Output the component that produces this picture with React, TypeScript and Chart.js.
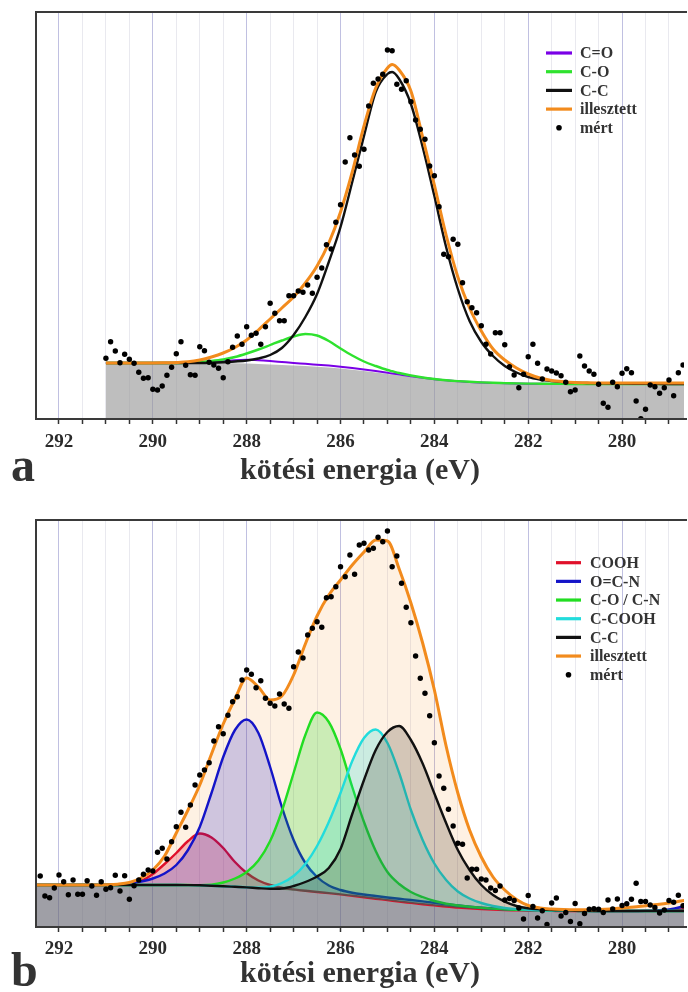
import React, { useEffect, useRef } from 'react';
import { Chart, registerables } from 'chart.js';

Chart.register(...registerables);

// ---------------- Panel a: fitted components (energy grid, eV) ----------------
const A_CURVE_E = [
  291.0, 290.75, 290.5, 290.25, 290.0, 289.75, 289.5, 289.25, 289.0, 288.75,
  288.5, 288.25, 288.0, 287.75, 287.5, 287.25, 287.0, 286.75, 286.5, 286.25,
  286.0, 285.75, 285.5, 285.25, 285.0, 284.9, 284.75, 284.5, 284.25, 284.0,
  283.75, 283.5, 283.25, 283.0, 282.75, 282.5, 282.25, 282.0, 281.75, 281.5,
  281.25, 281.0, 280.75, 280.5, 280.25, 280.0, 279.75, 279.5, 279.25, 279.0,
  278.75, 278.5,
];
const A_BACKGROUND = [
  56, 56, 56, 56, 56, 56, 56, 56, 56, 56,
  56, 55.8, 55.5, 55, 54.5, 54, 53.5, 53, 52.3, 51.5,
  50.5, 49.3, 48, 46.5, 45, 44.4, 43.5, 42, 40.5, 39.3,
  38.3, 37.5, 36.8, 36.3, 36, 35.7, 35.5, 35.3, 35.2, 35.1,
  35, 35, 35, 35, 35, 35, 35, 35, 35, 35,
  35, 35,
];
const A_C_DOUBLE_O = [
  56, 56, 56, 56, 56, 56, 56, 56, 56.2, 56.8,
  57.8, 58.8, 59.2, 58.8, 58, 57, 56, 55.2, 54.3, 53.4,
  52.3, 51, 49.5, 47.9, 46.2, 45.5, 44.5, 42.8, 41.2, 39.8,
  38.7, 37.8, 37, 36.5, 36.1, 35.8, 35.5, 35.3, 35.2, 35.1,
  35, 35, 35, 35, 35, 35, 35, 35, 35, 35,
  35, 35,
];
const A_C_O = [
  56, 56, 56, 56, 56, 56, 56, 56.3, 57, 58,
  59.5, 62, 65.5, 69.5, 74, 78.5, 82.5, 85, 83.5, 78,
  70.5, 63.5, 57.5, 53, 49, 47.8, 46, 43.5, 41.5, 40,
  38.8, 37.9, 37.2, 36.6, 36.2, 35.9, 35.6, 35.4, 35.3, 35.2,
  35.1, 35, 35, 35, 35, 35, 35, 35, 35, 35,
  35, 35,
];
const A_C_C = [
  56, 56, 56, 56, 56, 56, 56, 56, 56, 56.2,
  56.7, 57.5, 58.5, 60.5, 64, 71, 84, 102, 125, 157,
  192, 237, 283, 327, 345, 347, 340, 315, 272, 223,
  172, 130, 98, 77, 63, 53, 46.5, 42, 39.5, 38,
  37, 36.3, 36, 35.7, 35.5, 35.4, 35.3, 35.2, 35.1, 35,
  35, 35,
];
const A_FIT = [
  56, 56, 56, 56, 56, 56.2, 56.5, 57.2, 59, 62,
  66, 71.5, 79, 89, 100, 111, 122, 136, 153, 176,
  207, 247, 293, 331, 351, 354.5, 349, 328, 282, 234,
  184, 142, 111, 88, 70, 59, 51, 45, 41, 38.5,
  37.3, 36.6, 36.3, 36.1, 36, 36, 36, 36, 36, 36,
  36, 36,
];
// ---------------- Panel a: measured points ----------------
const A_MEAS_E = [
  291.0, 290.9, 290.8, 290.7, 290.6, 290.5, 290.4, 290.3, 290.2, 290.1,
  290.0, 289.9, 289.8, 289.7, 289.6, 289.5, 289.4, 289.3, 289.2, 289.1,
  289.0, 288.9, 288.8, 288.7, 288.6, 288.5, 288.4, 288.3, 288.2, 288.1,
  288.0, 287.9, 287.8, 287.7, 287.6, 287.5, 287.4, 287.3, 287.2, 287.1,
  287.0, 286.9, 286.8, 286.7, 286.6, 286.5, 286.4, 286.3, 286.2, 286.1,
  286.0, 285.9, 285.8, 285.7, 285.6, 285.5, 285.4, 285.3, 285.2, 285.1,
  285.0, 284.9, 284.8, 284.7, 284.6, 284.5, 284.4, 284.3, 284.2, 284.1,
  284.0, 283.9, 283.8, 283.7, 283.6, 283.5, 283.4, 283.3, 283.2, 283.1,
  283.0, 282.9, 282.8, 282.7, 282.6, 282.5, 282.4, 282.3, 282.2, 282.1,
  282.0, 281.9, 281.8, 281.7, 281.6, 281.5, 281.4, 281.3, 281.2, 281.1,
  281.0, 280.9, 280.8, 280.7, 280.6, 280.5, 280.4, 280.3, 280.2, 280.1,
  280.0, 279.9, 279.8, 279.7, 279.6, 279.5, 279.4, 279.3, 279.2, 279.1,
  279.0, 278.9, 278.8, 278.7,
];
const A_MEAS = [
  60.7, 77.3, 68, 56.3, 64.7, 59.7, 55.7, 46.7, 40.7, 41.3,
  29.7, 29, 33, 43.7, 51.7, 65.3, 77.3, 53.7, 44.3, 43.7,
  72.3, 68.3, 56.7, 54, 50.7, 41.3, 57.3, 71.7, 83, 74.7,
  92.3, 83.7, 85.7, 74.7, 92.3, 115.7, 105.7, 98.3, 98.3, 123.3,
  123.3, 128, 126.7, 134, 125.7, 141.7, 151, 174.3, 170, 196.7,
  214.3, 257, 281.3, 264, 252.7, 269.7, 313, 335.7, 340, 344.7,
  369, 368.3, 334.7, 329.7, 338.3, 317.3, 299, 289.7, 279.7, 253,
  243.3, 212.3, 164.7, 162.3, 179.7, 174.7, 136.3, 117.3, 111.3, 106.3,
  93.3, 74.7, 65, 86.3, 86.3, 74.3, 52.3, 44, 31.3, 44.7,
  62.3, 74.7, 55.7, 40, 50, 48, 46, 43.3, 36.7, 27.3,
  29, 63, 53, 48, 44.7, 34.7, 15.7, 11.7, 36.7, 32.3,
  45.7, 50.3, 46.3, 18, 0.3, 9.7, 34, 32.3, 25.7, 31.3,
  39, 23.3, 46.3, 54,
];

// ---------------- Panel b: fitted components ----------------
const B_CURVE_E = [
  292.5, 292.25, 292.0, 291.75, 291.5, 291.25, 291.0, 290.75, 290.5, 290.25,
  290.0, 289.75, 289.5, 289.25, 289.0, 288.75, 288.5, 288.25, 288.0, 287.75,
  287.5, 287.25, 287.0, 286.75, 286.5, 286.25, 286.0, 285.75, 285.5, 285.25,
  285.0, 284.75, 284.5, 284.25, 284.0, 283.75, 283.5, 283.25, 283.0, 282.75,
  282.5, 282.25, 282.0, 281.75, 281.5, 281.25, 281.0, 280.75, 280.5, 280.25,
  280.0, 279.75, 279.5, 279.25, 279.0, 278.75, 278.5,
];
const B_BACKGROUND = [
  42, 42, 42, 42, 42, 42, 42, 42, 42, 42,
  42, 42, 42, 41.9, 41.7, 41.3, 40.8, 40.2, 39.5, 38.7,
  37.8, 36.9, 36, 35, 34, 33, 31.8, 30.5, 29.2, 27.8,
  26.4, 25, 23.7, 22.5, 21.3, 20.2, 19.3, 18.5, 17.8, 17.3,
  16.9, 16.6, 16.4, 16.2, 16.1, 16, 16, 16, 16, 16,
  16, 16, 16, 16, 16, 16, 16,
];
const B_COOH = [
  42, 42, 42, 42, 42, 42, 42, 42.2, 42.8, 46,
  53, 63, 74, 86, 93.5, 89.5, 79, 65, 54, 46.5,
  42, 39.3, 37.6, 36.2, 35, 33.9, 32.6, 31.2, 29.8, 28.3,
  26.9, 25.4, 24.1, 22.8, 21.6, 20.4, 19.5, 18.6, 17.9, 17.4,
  17, 16.7, 16.4, 16.2, 16.1, 16, 16, 16, 16, 16,
  16, 16, 16.1, 16.3, 16.8, 17.6, 18.6,
];
const B_OCN = [
  42, 42, 42, 42, 42, 42, 42.2, 42.6, 43.5, 45.5,
  48.5, 53.5, 62, 77, 100, 134, 170, 197, 207.5, 194,
  160, 120, 87, 64, 50, 41.5, 37, 34.3, 32.5, 31,
  29.5, 28.2, 27, 25.6, 24.2, 22.8, 21.5, 20.3, 19.3, 18.5,
  17.8, 17.3, 16.9, 16.6, 16.4, 16.2, 16.1, 16, 16, 16,
  16, 16, 16.2, 16.6, 17.5, 20, 24,
];
const B_CON = [
  42, 42, 42, 42, 42, 42, 42, 42, 42, 42,
  42, 42, 42, 42, 41.8, 42.3, 44.5, 48.5, 55, 66.5,
  86, 116, 154, 192, 214.5, 205, 178, 140, 105, 76,
  55, 43, 35, 30, 26, 23.3, 21.5, 20.2, 19.2, 18.4,
  17.8, 17.3, 16.9, 16.6, 16.4, 16.2, 16.1, 16, 16, 16,
  16, 16, 16, 16, 16, 16, 16,
];
const B_CCOOH = [
  42, 42, 42, 42, 42, 42, 42, 42, 42, 42,
  42, 42, 42, 41.9, 41.7, 41.3, 40.8, 40.2, 39.7, 39.4,
  40.3, 44, 51, 63, 81, 105, 134, 166, 189, 197.5,
  184, 154, 117, 87, 63.5, 47, 35.5, 28.5, 24, 21,
  19, 18, 17.3, 16.8, 16.5, 16.3, 16.1, 16, 16, 16,
  16, 16, 16, 16, 16, 16, 16,
];
const B_CC = [
  42, 42, 42, 42, 42, 42, 42, 42, 42, 42,
  42, 42, 42, 41.9, 41.7, 41.3, 40.8, 40.2, 39.6, 38.8,
  38.2, 38.5, 41, 45, 50.5, 59, 78, 113, 147, 177,
  195, 201, 187, 163.5, 133.5, 104, 77, 57, 42, 32,
  25.3, 21, 18.7, 17.7, 17, 16.6, 16.3, 16.1, 16, 16,
  16, 16, 16, 16, 16, 16, 16,
];
const B_FIT = [
  42, 42, 42, 42, 42, 42, 42.2, 42.8, 44.5, 49,
  57, 71, 94, 117, 142, 173, 203, 228, 249, 240,
  227, 231, 252, 283, 311, 332, 347, 362, 375, 387,
  386, 358, 324, 284, 237, 181, 134, 97, 70, 50,
  37, 27.5, 21.5, 19, 18, 17.5, 17.3, 17.3, 17.5, 18,
  19, 20, 21.3, 22.5, 24, 26, 28,
];
// ---------------- Panel b: measured points ----------------
const B_MEAS_E = [
  292.4, 292.3, 292.2, 292.1, 292.0, 291.9, 291.8, 291.7, 291.6, 291.5,
  291.4, 291.3, 291.2, 291.1, 291.0, 290.9, 290.8, 290.7, 290.6, 290.5,
  290.4, 290.3, 290.2, 290.1, 290.0, 289.9, 289.8, 289.7, 289.6, 289.5,
  289.4, 289.3, 289.2, 289.1, 289.0, 288.9, 288.8, 288.7, 288.6, 288.5,
  288.4, 288.3, 288.2, 288.1, 288.0, 287.9, 287.8, 287.7, 287.6, 287.5,
  287.4, 287.3, 287.2, 287.1, 287.0, 286.9, 286.8, 286.7, 286.6, 286.5,
  286.4, 286.3, 286.2, 286.1, 286.0, 285.9, 285.8, 285.7, 285.6, 285.5,
  285.4, 285.3, 285.2, 285.1, 285.0, 284.9, 284.8, 284.7, 284.6, 284.5,
  284.4, 284.3, 284.2, 284.1, 284.0, 283.9, 283.8, 283.7, 283.6, 283.5,
  283.4, 283.3, 283.2, 283.1, 283.0, 282.9, 282.8, 282.7, 282.6, 282.5,
  282.4, 282.3, 282.2, 282.1, 282.0, 281.9, 281.8, 281.7, 281.6, 281.5,
  281.4, 281.3, 281.2, 281.1, 281.0, 280.9, 280.8, 280.7, 280.6, 280.5,
  280.4, 280.3, 280.2, 280.1, 280.0, 279.9, 279.8, 279.7, 279.6, 279.5,
  279.4, 279.3, 279.2, 279.1, 279.0, 278.9, 278.8, 278.7,
];
const B_MEAS = [
  51, 31, 29.3, 39, 52, 45.3, 32.3, 47, 32.7, 32.7,
  46.3, 41, 31.7, 45.3, 37.7, 39.3, 51.7, 36, 51.3, 27.7,
  41.3, 47, 52.7, 57, 56, 74.7, 78.7, 68, 85.3, 100.3,
  114.7, 99.7, 122, 142, 152, 157, 164.3, 186, 200.3, 193.3,
  211.7, 225.3, 230.3, 247, 257, 252.7, 239.3, 246.3, 228.7, 223.7,
  221, 233, 223, 218.7, 260.3, 275, 269, 292, 298.7, 305.3,
  299.7, 329.3, 330.3, 340.3, 360.3, 350.3, 372, 352.7, 382, 383.7,
  377, 378.7, 389.7, 385.3, 396, 360.3, 371, 343.7, 319.7, 304.3,
  271, 248.7, 233.7, 211.3, 184.3, 151, 138.7, 117.7, 101, 83.7,
  82.7, 49, 57.7, 57.7, 48, 47, 39, 36.5, 41, 27,
  28.5, 26.5, 19, 8, 31.5, 20.5, 9, 16.3, 2.5, 24,
  29, 11, 14.5, 5.5, 23.5, 3.3, 13.5, 17.7, 18.2, 17.7,
  14.5, 27, 18, 28, 21.5, 23.3, 27.7, 43.7, 25.5, 25.5,
  22, 19.5, 14, 17, 26.5, 24.8, 31.7, 21.3,
];

// ---------------- Axis ----------------
const TICK_VALUES = [
  279, 279.5, 280, 280.5, 281, 281.5, 282, 282.5, 283, 283.5, 284, 284.5, 285, 285.5,
  286, 286.5, 287, 287.5, 288, 288.5, 289, 289.5, 290, 290.5, 291, 291.5, 292,
];
const TICK_LABEL_VALUES = [280, 282, 284, 286, 288, 290, 292];
const AXIS_TITLE = 'kötési energia (eV)';
const A_LEGEND = ['C=O', 'C-O', 'C-C', 'illesztett', 'mért'];
const B_LEGEND = ['COOH', 'O=C-N', 'C-O / C-N', 'C-COOH', 'C-C', 'illesztett', 'mért'];

const SERIF = '"Liberation Serif", "Times New Roman", serif';
const ORANGE = '#f28b1d';

function pts(xs: number[], ys: number[]) {
  return xs.map((x, i) => ({ x, y: ys[i] }));
}

const framePlugin = {
  id: 'frame',
  afterDatasetsDraw(chart: any) {
    const { ctx, chartArea } = chart;
    const { left, right, top, bottom } = chartArea;
    ctx.save();
    ctx.strokeStyle = '#3a3a3a';
    ctx.lineWidth = 2;
    ctx.lineJoin = 'miter';
    ctx.beginPath();
    ctx.moveTo(right + 3, top);
    ctx.lineTo(left, top);
    ctx.lineTo(left, bottom);
    ctx.lineTo(right + 3, bottom);
    ctx.stroke();
    ctx.restore();
  },
};

type LegendItem = { label: string; color: string; dot?: boolean };

function legendPlugin(items: LegendItem[], x0: number, x1: number, xt: number, y0: number, dy: number) {
  return {
    id: 'customLegend',
    afterDraw(chart: any) {
      const ctx = chart.ctx;
      ctx.save();
      ctx.font = 'bold 16px ' + SERIF;
      ctx.textBaseline = 'middle';
      ctx.textAlign = 'left';
      items.forEach((it, i) => {
        const y = y0 + i * dy;
        if (it.dot) {
          ctx.fillStyle = it.color;
          ctx.beginPath();
          ctx.arc((x0 + x1) / 2, y, 2.8, 0, Math.PI * 2);
          ctx.fill();
        } else {
          ctx.strokeStyle = it.color;
          ctx.lineWidth = 3.2;
          ctx.beginPath();
          ctx.moveTo(x0, y);
          ctx.lineTo(x1, y);
          ctx.stroke();
        }
        ctx.fillStyle = '#333';
        ctx.fillText(it.label, xt, y + 1);
      });
      ctx.restore();
    },
  };
}

function xScale(axisHeight: number, tickPad: number) {
  return {
    type: 'linear',
    reverse: true,
    min: 278.68,
    max: 292.49,
    afterBuildTicks: (scale: any) => {
      scale.ticks = TICK_VALUES.map((v) => ({ value: v }));
    },
    afterFit: (scale: any) => {
      scale.height = axisHeight;
    },
    grid: {
      color: (c: any) => {
        const v = c.tick ? c.tick.value : 0;
        return TICK_LABEL_VALUES.includes(v) ? 'rgba(150,150,205,0.6)' : 'rgba(215,215,225,0.55)';
      },
      lineWidth: 1,
      drawTicks: true,
      tickLength: 5,
      tickColor: '#333',
      tickWidth: 1.5,
    },
    border: { display: false },
    ticks: {
      autoSkip: false,
      maxRotation: 0,
      minRotation: 0,
      padding: tickPad,
      color: '#2b2b2b',
      font: { family: SERIF, size: 19, weight: 'bold' },
      callback: (v: any) => (TICK_LABEL_VALUES.includes(Number(v)) ? String(v) : ''),
    },
    title: {
      display: true,
      text: AXIS_TITLE,
      color: '#333',
      font: { family: SERIF, size: 30, weight: 'bold' },
      padding: { top: 0, bottom: 0 },
    },
  };
}

function line(data: any[], color: string, width: number, extra: any = {}) {
  return {
    data,
    borderColor: color,
    borderWidth: width,
    backgroundColor: 'rgba(0,0,0,0)',
    pointRadius: 0,
    cubicInterpolationMode: 'monotone',
    fill: false,
    ...extra,
  };
}

function dots(data: any[]) {
  return {
    data,
    showLine: false,
    pointRadius: 2.7,
    pointBackgroundColor: '#000',
    pointBorderWidth: 0,
    borderColor: '#000',
  };
}

export default function App() {
  const refA = useRef<HTMLCanvasElement>(null);
  const refB = useRef<HTMLCanvasElement>(null);

  useEffect(() => {
    // Panel a datasets: index 5 = background
    const aDatasets = [
      dots(pts(A_MEAS_E, A_MEAS)),
      line(pts(A_CURVE_E, A_FIT), ORANGE, 3),
      line(pts(A_CURVE_E, A_C_C), '#111', 2.4),
      line(pts(A_CURVE_E, A_C_O), '#2fe22f', 2.4),
      line(pts(A_CURVE_E, A_C_DOUBLE_O), '#7a00e6', 2),
      {
        data: pts(A_CURVE_E, A_BACKGROUND),
        borderColor: 'rgba(0,0,0,0)',
        borderWidth: 1,
        backgroundColor: 'rgba(150,150,150,0.62)',
        pointRadius: 0,
        fill: 'origin',
      },
    ];
    const chartA = new Chart(refA.current as HTMLCanvasElement, {
      type: 'line',
      data: { datasets: aDatasets as any },
      options: {
        responsive: false,
        animation: false,
        devicePixelRatio: 1,
        events: [],
        layout: { padding: { left: 36, top: 12, right: 0, bottom: 1 } },
        plugins: { legend: { display: false }, tooltip: { enabled: false } },
        scales: {
          x: xScale(70, 7) as any,
          y: { display: false, min: 0, max: 407 },
        },
      },
      plugins: [
        framePlugin,
        legendPlugin(
          [
            { label: A_LEGEND[0], color: '#7a00e6' },
            { label: A_LEGEND[1], color: '#2fe22f' },
            { label: A_LEGEND[2], color: '#111' },
            { label: A_LEGEND[3], color: ORANGE },
            { label: A_LEGEND[4], color: '#000', dot: true },
          ],
          546, 572, 580, 53, 18.7
        ),
      ],
    });

    // Panel b datasets: index 8 = background
    const BG = 8;
    const bDatasets = [
      dots(pts(B_MEAS_E, B_MEAS)),
      line(pts(B_CURVE_E, B_FIT), ORANGE, 3),
      line(pts(B_CURVE_E, B_CC), '#111', 2.4, { fill: BG, backgroundColor: 'rgba(45,25,5,0.2)' }),
      line(pts(B_CURVE_E, B_CCOOH), '#22dcdc', 2.4, { fill: BG, backgroundColor: 'rgba(0,215,215,0.2)' }),
      line(pts(B_CURVE_E, B_CON), '#22dd22', 2.4, { fill: BG, backgroundColor: 'rgba(0,215,0,0.2)' }),
      line(pts(B_CURVE_E, B_OCN), '#1414c8', 2.4, { fill: BG, backgroundColor: 'rgba(20,20,200,0.2)' }),
      line(pts(B_CURVE_E, B_COOH), '#e0102a', 2.4, { fill: BG, backgroundColor: 'rgba(225,20,60,0.26)' }),
      line(pts(B_CURVE_E, B_FIT), 'rgba(0,0,0,0)', 0.5, { fill: BG, backgroundColor: 'rgba(245,145,40,0.13)' }),
      {
        data: pts(B_CURVE_E, B_BACKGROUND),
        borderColor: 'rgba(0,0,0,0)',
        borderWidth: 1,
        backgroundColor: 'rgba(100,100,112,0.62)',
        pointRadius: 0,
        fill: 'origin',
      },
    ];
    const chartB = new Chart(refB.current as HTMLCanvasElement, {
      type: 'line',
      data: { datasets: bDatasets as any },
      options: {
        responsive: false,
        animation: false,
        devicePixelRatio: 1,
        events: [],
        layout: { padding: { left: 36, top: 32, right: 0, bottom: 0 } },
        plugins: { legend: { display: false }, tooltip: { enabled: false } },
        scales: {
          x: xScale(65, 6) as any,
          y: { display: false, min: 0, max: 407 },
        },
      },
      plugins: [
        framePlugin,
        legendPlugin(
          [
            { label: B_LEGEND[0], color: '#e0102a' },
            { label: B_LEGEND[1], color: '#1414c8' },
            { label: B_LEGEND[2], color: '#22dd22' },
            { label: B_LEGEND[3], color: '#22dcdc' },
            { label: B_LEGEND[4], color: '#111' },
            { label: B_LEGEND[5], color: ORANGE },
            { label: B_LEGEND[6], color: '#000', dot: true },
          ],
          556, 581, 590, 74.7, 18.67
        ),
      ],
    });

    return () => {
      chartA.destroy();
      chartB.destroy();
    };
  }, []);

  const letter: React.CSSProperties = {
    position: 'absolute',
    left: 11,
    font: 'bold 48px ' + SERIF,
    lineHeight: '48px',
    color: '#333',
    margin: 0,
  };

  return (
    <div style={{ position: 'absolute', left: 0, top: 0, width: 688, height: 992, background: '#fff', overflow: 'hidden' }}>
      <canvas ref={refA} width={688} height={490} style={{ position: 'absolute', left: 0, top: 0, display: 'block' }} />
      <canvas ref={refB} width={688} height={504} style={{ position: 'absolute', left: 0, top: 488, display: 'block' }} />
      <div style={{ ...letter, top: 441 }}>a</div>
      <div style={{ ...letter, top: 946 }}>b</div>
    </div>
  );
}
